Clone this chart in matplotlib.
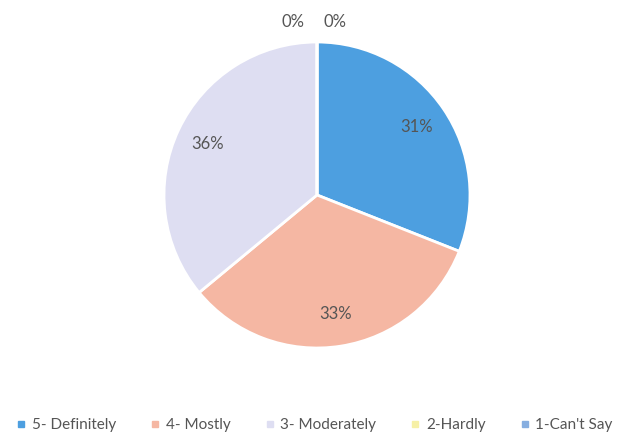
import numpy as np
import matplotlib
matplotlib.use("Agg")
import matplotlib.pyplot as plt
from matplotlib.lines import Line2D

plt.rcParams['font.family'] = ['Lato', 'DejaVu Sans']

categories = ["5- Definitely", "4- Mostly", "3- Moderately", "2-Hardly", "1-Can't Say"]
values = [31, 33, 36, 0, 0]
colors = ["#4d9fe0", "#f5b7a3", "#dedef2", "#f6f0a6", "#86aee0"]

fig = plt.figure(figsize=(6.28, 4.42), dpi=100)
ax = fig.add_axes([0, 0, 1, 1])
ax.set_xlim(0, 628)
ax.set_ylim(0, 442)
ax.set_aspect('equal')
ax.axis('off')

cx, cy, r = 317, 442 - 195, 153
wedges, _ = ax.pie(values, colors=colors, startangle=90, counterclock=False,
                   center=(cx, cy), radius=r,
                   wedgeprops=dict(edgecolor='white', linewidth=2))
ax.set_xlim(0, 628)
ax.set_ylim(0, 442)

total = sum(values)
zero_offsets = [-24, 18]
zi = 0
for w, v in zip(wedges, values):
    mid = np.deg2rad((w.theta1 + w.theta2) / 2)
    if v == 0:
        x = cx + zero_offsets[zi]
        y = cy + 173
        zi += 1
    else:
        d = 0.79 * r
        x = cx + d * np.cos(mid)
        y = cy + d * np.sin(mid)
    ax.text(x, y, f"{round(100 * v / total)}%", ha='center', va='center',
            fontsize=12, color='#555555')

handles = [Line2D([0], [0], marker='s', linestyle='', markersize=5,
                  markerfacecolor=c, markeredgecolor=c) for c in colors]
fig.legend(handles, categories, loc='center', bbox_to_anchor=(0.5, 0.038),
           ncol=5, frameon=False, fontsize=11, labelcolor='#555555',
           handletextpad=0.3, columnspacing=2.15, handlelength=0.8)

fig.savefig("out.png", dpi=100)
